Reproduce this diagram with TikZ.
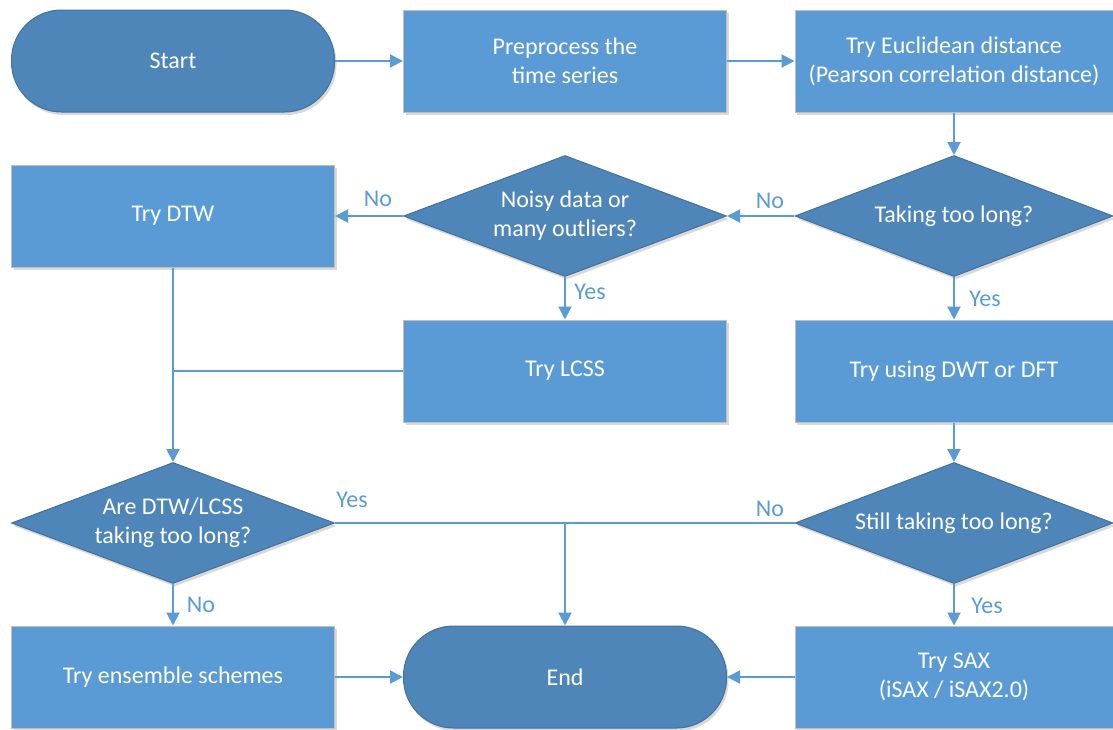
\documentclass[tikz,border=0pt]{standalone}
\usepackage{fontspec}
\setmainfont{Carlito}
\usetikzlibrary{shapes.geometric,arrows.meta,shadows}
\definecolor{boxblue}{HTML}{5B9BD5}
\definecolor{decblue}{HTML}{4E86B9}
\definecolor{decline}{HTML}{41719C}
\definecolor{boxline}{HTML}{BFBFBF}

\tikzset{
  every node/.style={font=\fontsize{24}{29}\selectfont},
  shade/.style={drop shadow={shadow xshift=2pt,shadow yshift=-3pt,opacity=.3,fill=black!50}},
  procbox/.style={rectangle,fill=boxblue,draw=boxline,line width=1pt,text=white,align=center,
    minimum width=323pt,minimum height=102pt,inner sep=0pt,shade},
  termbox/.style={rectangle,rounded corners=50pt,fill=decblue,draw=decline,line width=1pt,text=white,
    align=center,minimum width=323pt,minimum height=102pt,inner sep=0pt,shade},
  decbox/.style={diamond,shape aspect=2.65,fill=decblue,draw=decline,line width=1pt,text=white,
    align=center,minimum width=323pt,minimum height=121pt,inner sep=0pt,shade},
  flow/.style={draw=boxblue,line width=2pt,-{Triangle[length=13pt,width=13pt]}},
  link/.style={draw=boxblue,line width=2pt},
  lbl/.style={text=boxblue}
}

\begin{document}
\begin{tikzpicture}[x=1pt,y=-1pt]
  \useasboundingbox (0,0) rectangle (1113,729);

  % first row
  \node[termbox] (start) at (173,61) {Start};
  \node[procbox] (prep) at (565,61) {Preprocess the\\time series};
  \node[procbox,minimum width=318pt] (eucl) at (954,61) {Try Euclidean distance\\(Pearson correlation distance)};

  % second row
  \node[procbox] (dtw) at (173,216) {Try DTW};
  \node[decbox] (noisy) at (565,216) {Noisy data or\\many outliers?};
  \node[decbox,minimum width=318pt] (long) at (954,216) {Taking too long?};

  % third row
  \node[procbox] (lcss) at (565,371) {Try LCSS};
  \node[procbox,minimum width=318pt] (dwt) at (954,371) {Try using DWT or DFT};

  % fourth row
  \node[decbox] (slow) at (173,523) {Are DTW/LCSS\\taking too long?};
  \node[decbox,minimum width=318pt] (still) at (954,523) {Still taking too long?};

  % last row
  \node[procbox] (ens) at (173,677) {Try ensemble schemes};
  \node[termbox] (end) at (565,677) {End};
  \node[procbox,minimum width=318pt] (sax) at (954,677) {Try SAX\\(iSAX / iSAX2.0)};

  % connectors
  \draw[flow] (start) -- (prep);
  \draw[flow] (prep) -- (eucl);
  \draw[flow] (eucl) -- (long);
  \draw[flow] (long) -- (noisy);
  \draw[flow] (noisy) -- (dtw);
  \draw[flow] (noisy) -- (lcss);
  \draw[flow] (long) -- (dwt);
  \draw[flow] (dwt) -- (still);
  \draw[flow] (dtw) -- (slow);
  \draw[link] (lcss.west) -- (dtw.south |- lcss.west);
  \draw[link] (slow.east) -- (still.west);
  \coordinate (meet) at (end.north |- slow.east);
  \draw[flow] (meet) -- (end);
  \draw[flow] (slow) -- (ens);
  \draw[flow] (still) -- (sax);
  \draw[flow] (ens) -- (end);
  \draw[flow] (sax) -- (end);

  % branch labels
  \node[lbl] (noA) at (770,201) {No};
  \node[lbl] (noB) at (378,199) {No};
  \node[lbl] (yesA) at (590,292) {Yes};
  \node[lbl] (yesB) at (985,299) {Yes};
  \node[lbl] (yesC) at (352,500) {Yes};
  \node[lbl] (noC) at (770,509) {No};
  \node[lbl] (noD) at (201,605) {No};
  \node[lbl] (yesD) at (987,606) {Yes};
\end{tikzpicture}
\end{document}
